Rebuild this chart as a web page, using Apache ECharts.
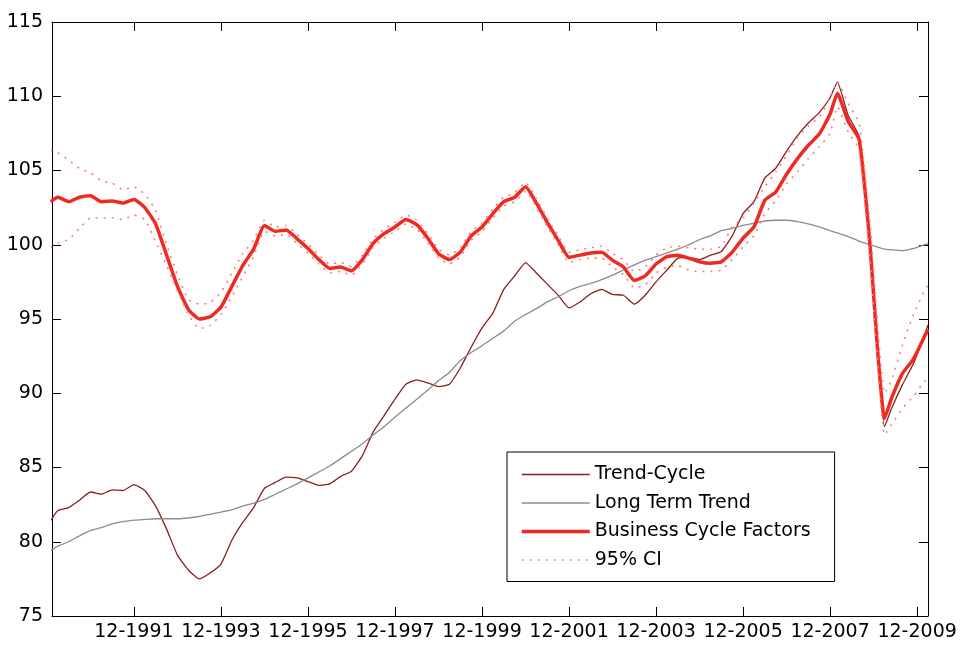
<!DOCTYPE html>
<html>
<head>
<meta charset="utf-8">
<script src="https://cdn.jsdelivr.net/npm/echarts@6/dist/echarts.min.js"></script>
<style>
  html, body { margin: 0; background: #fff; }
  #chart { width: 960px; height: 645px; }
</style>
</head>
<body>
<div id="chart"></div>
<script>
// month index: 1 = Jan 1990, 24 = Dec 1991, ...
const months = [1,
  3, 6, 9, 12, 15, 18, 21, 24, 27, 30,
  33, 36, 39, 42, 45, 48, 51, 54, 57, 60,
  63, 66, 69, 72, 75, 78, 81, 84, 87, 90,
  93, 96, 99, 102, 105, 108, 111, 114, 117, 120,
  123, 126, 129, 132, 135, 138, 141, 144, 147, 150,
  153, 156, 159, 162, 165, 168, 171, 174, 177, 180,
  183, 186, 189, 192, 195, 198, 201, 204, 207, 210,
  213, 216,
  218, 221, 224, 227, 229, 231, 233, 236, 239, 242, 243]

const trendCycle = [81.4,
  82.1, 82.3, 82.8, 83.35, 83.2, 83.5, 83.45, 83.85, 83.45, 82.4,
  80.85, 79.1, 78.1, 77.5, 77.9, 78.5, 80.1, 81.3, 82.3, 83.6,
  84.0, 84.35, 84.3, 84.05, 83.8, 83.9, 84.4, 84.75, 85.8, 87.4,
  88.5, 89.6, 90.6, 90.9, 90.7, 90.45, 90.6, 91.7, 93.1, 94.4,
  95.4, 97.0, 97.9, 98.8, 98.1, 97.35, 96.6, 95.75, 96.15, 96.7,
  97.0, 96.65, 96.6, 96.0, 96.6, 97.5, 98.3, 99.1, 99.15, 99.0,
  99.3, 99.55, 100.6, 102.1, 102.9, 104.5, 105.15, 106.3, 107.35, 108.2,
  108.9, 109.9,
  110.95, 108.7, 107.3, 99.9, 93.0, 87.75, 89.0, 90.6, 92.0, 93.9, 94.6]

const longTermTrend = [79.4,
  79.7, 80.0, 80.4, 80.75, 80.95, 81.2, 81.35, 81.45, 81.5, 81.55,
  81.55, 81.55, 81.6, 81.7, 81.85, 82.0, 82.15, 82.4, 82.6, 82.85,
  83.2, 83.55, 83.9, 84.3, 84.7, 85.1, 85.6, 86.1, 86.6, 87.2,
  87.75, 88.4, 89.0, 89.6, 90.2, 90.85, 91.4, 92.2, 92.75, 93.2,
  93.7, 94.2, 94.85, 95.3, 95.7, 96.15, 96.5, 96.9, 97.2, 97.4,
  97.65, 97.95, 98.3, 98.65, 98.95, 99.2, 99.45, 99.7, 100.0, 100.35,
  100.6, 100.95, 101.1, 101.3, 101.45, 101.6, 101.65, 101.65, 101.55, 101.4,
  101.2, 100.95,
  100.8, 100.55, 100.25, 100.0, 99.85, 99.7, 99.65, 99.6, 99.75, 100.0, 100.05]

const businessCycle = [102.9,
  103.2, 102.9, 103.2, 103.3, 102.9, 102.95, 102.8, 103.05, 102.5, 101.4,
  99.3, 97.2, 95.65, 95.0, 95.15, 95.8, 97.2, 98.6, 99.7, 101.3,
  100.9, 101.0, 100.4, 99.75, 99.0, 98.4, 98.5, 98.25, 99.0, 100.1,
  100.75, 101.2, 101.7, 101.35, 100.45, 99.4, 99.0, 99.5, 100.6, 101.2,
  102.1, 102.9, 103.2, 103.9, 102.8, 101.5, 100.3, 99.15, 99.3, 99.45,
  99.5, 98.95, 98.5, 97.6, 97.9, 98.7, 99.2, 99.3, 99.1, 98.85,
  98.75, 98.85, 99.5, 100.45, 101.2, 103.0, 103.55, 104.75, 105.8, 106.7,
  107.45, 108.8,
  110.2, 108.3, 107.1, 100.0, 93.2, 88.3, 89.7, 91.35, 92.3, 93.8, 94.3]

const ciUpper = [106.4,
  106.2, 105.7, 105.15, 104.85, 104.3, 104.15, 103.7, 103.9, 103.4, 102.3,
  100.0, 98.0, 96.3, 96.0, 96.1, 96.8, 98.1, 99.4, 100.3, 101.65,
  101.2, 101.3, 100.7, 100.05, 99.3, 98.7, 98.8, 98.55, 99.3, 100.4,
  101.05, 101.5, 102.0, 101.65, 100.75, 99.7, 99.3, 99.8, 100.9, 101.5,
  102.4, 103.2, 103.5, 104.2, 103.1, 101.8, 100.6, 99.5, 99.65, 99.8,
  99.9, 99.4, 99.0, 98.2, 98.5, 99.3, 99.8, 99.9, 99.8, 99.7,
  99.7, 99.9, 101.2, 101.8, 102.8, 103.9, 104.9, 106.0, 107.2, 108.0,
  108.6, 109.9,
  111.0, 109.5, 108.2, 101.5, 95.0, 90.0, 90.9, 93.3, 95.3, 96.9, 97.3]

const ciLower = [99.8,
  100.1, 100.35, 101.1, 101.8, 101.8, 101.8, 101.7, 102.0, 101.7, 100.2,
  98.6, 96.9, 95.3, 94.35, 94.55, 95.3, 96.5, 97.85, 99.2, 100.9,
  100.6, 100.7, 100.1, 99.45, 98.7, 98.1, 98.2, 97.95, 98.7, 99.8,
  100.45, 100.9, 101.4, 101.05, 100.15, 99.1, 98.7, 99.2, 100.3, 100.9,
  101.8, 102.6, 102.9, 103.6, 102.5, 101.2, 100.0, 98.8, 99.0, 99.1,
  99.1, 98.5, 98.0, 97.1, 97.3, 98.1, 98.5, 98.6, 98.3, 98.2,
  98.2, 98.3, 99.0, 99.85, 100.6, 102.1, 102.95, 104.1, 104.9, 105.8,
  106.6, 107.5,
  109.3, 107.6, 106.4, 99.0, 92.4, 87.2, 87.9, 89.0, 89.8, 90.8, 91.0]

const xTicks = [24, 48, 72, 96, 120, 144, 168, 192, 216, 240]
const xTickLabels = ['12-1991', '12-1993', '12-1995', '12-1997', '12-1999',
  '12-2001', '12-2003', '12-2005', '12-2007', '12-2009']

const font = 'DejaVu Sans'
const pairs = (vals) => months.map((m, i) => [m, vals[i]])

const baseX = {
  type: 'value',
  min: 1.4,
  max: 243,
  axisLine: { show: true, onZero: false, lineStyle: { color: '#000', width: 1 } },
  axisTick: { show: true, inside: true, length: 9, customValues: xTicks, lineStyle: { color: '#000' } },
  splitLine: { show: false },
}
const baseY = {
  type: 'value',
  min: 75,
  max: 115,
  interval: 5,
  axisLine: { show: true, onZero: false, lineStyle: { color: '#000', width: 1 } },
  axisTick: { show: true, inside: true, length: 9, lineStyle: { color: '#000' } },
  splitLine: { show: false },
}

const lineSeries = (name, vals, color, width, type, z) => ({
  name: name,
  type: 'line',
  data: pairs(vals),
  symbol: 'none',
  showSymbol: false,
  smooth: 0.15,
  z: z,
  color: color,
  lineStyle: { color: color, width: width, type: type },
  emphasis: { disabled: true },
})

const chart = echarts.init(document.getElementById('chart'))
chart.setOption({
  animation: false,
  backgroundColor: '#fff',
  grid: { left: 52, right: 32, top: 22, bottom: 29 },
  legend: {
    left: 507,
    top: 452,
    orient: 'vertical',
    backgroundColor: '#fff',
    borderColor: '#000',
    borderWidth: 1,
    borderRadius: 0,
    padding: [13, 24, 12, 13],
    itemWidth: 68,
    itemHeight: 19,
    itemGap: 9.5,
    selectedMode: false,
    itemStyle: { opacity: 0, borderWidth: 0 },
    textStyle: { fontFamily: font, fontSize: 19, color: '#000' },
    data: [
      { name: 'Trend-Cycle', lineStyle: { width: 1.3 } },
      { name: 'Long Term Trend', lineStyle: { width: 1.3 } },
      { name: 'Business Cycle Factors', lineStyle: { width: 3.5 } },
      { name: '95% CI', lineStyle: { width: 1.6 } },
    ],
  },
  xAxis: [
    Object.assign({}, baseX, {
      position: 'bottom',
      axisLabel: {
        customValues: xTicks,
        formatter: (v) => xTickLabels[xTicks.indexOf(v)],
        color: '#000',
        fontFamily: font,
        fontSize: 19,
        margin: 7,
      },
    }),
    Object.assign({}, baseX, { position: 'top', axisLabel: { show: false } }),
  ],
  yAxis: [
    Object.assign({}, baseY, {
      position: 'left',
      axisLabel: { color: '#000', fontFamily: font, fontSize: 19, margin: 9 },
    }),
    Object.assign({}, baseY, { position: 'right', axisLabel: { show: false } }),
  ],
  series: [
    lineSeries('Trend-Cycle', trendCycle, '#8b1e1e', 1.3, 'solid', 2),
    lineSeries('Long Term Trend', longTermTrend, '#8c8c8c', 1.3, 'solid', 2),
    lineSeries('Business Cycle Factors', businessCycle, '#ee2a22', 3.5, 'solid', 3),
    lineSeries('95% CI', ciUpper, '#ff7a7a', 1.6, [2, 6], 4),
    lineSeries('95% CI', ciLower, '#ff7a7a', 1.6, [2, 6], 4),
  ],
})
</script>
</body>
</html>
